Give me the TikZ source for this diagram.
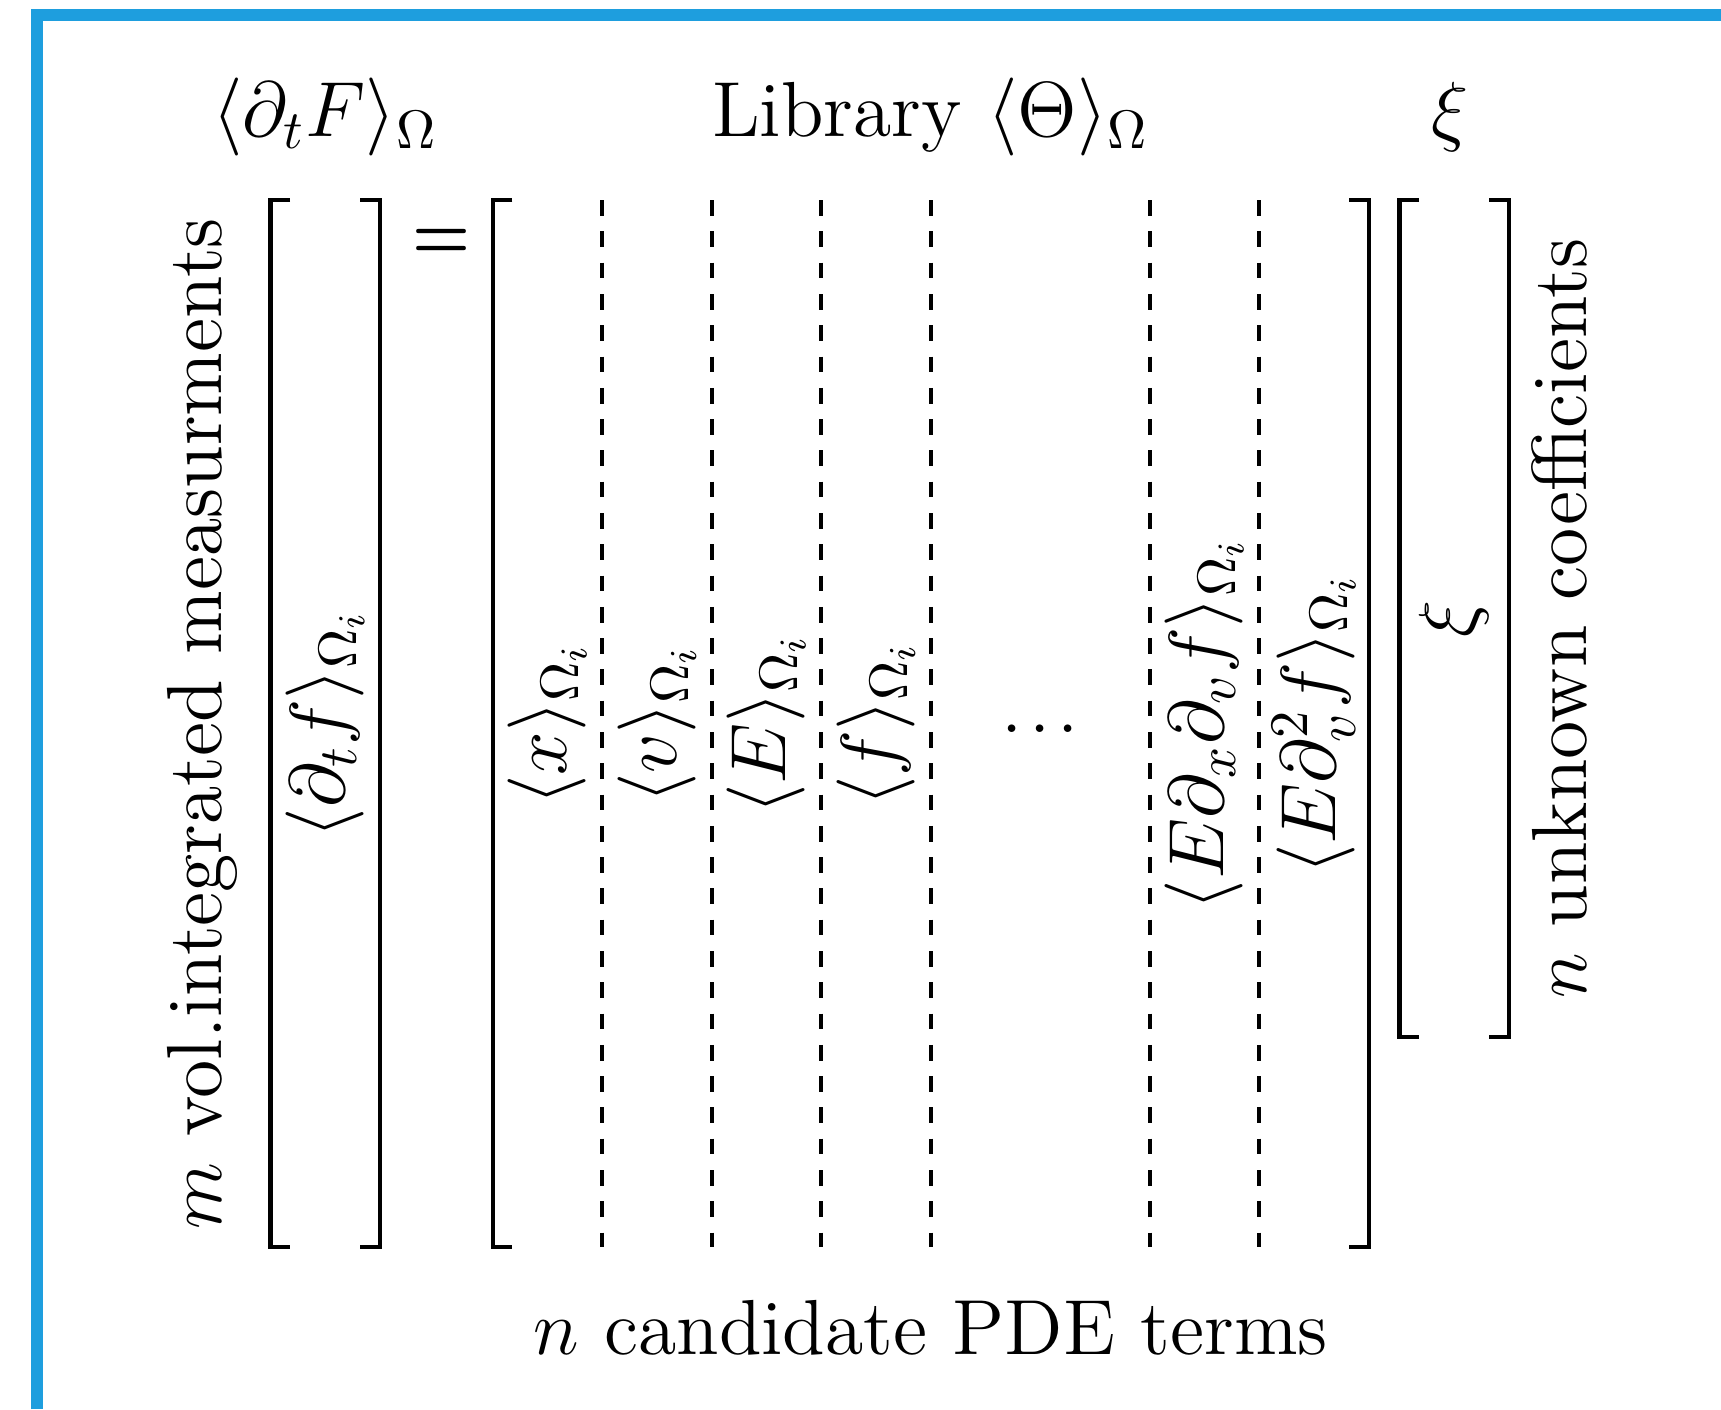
\documentclass[tikz,border=0pt]{standalone}
\usepackage{amsmath}
\usetikzlibrary{positioning}
\definecolor{frameblue}{RGB}{30,158,222}

\begin{document}
\begin{tikzpicture}[x=21pt, y=21pt,
  every node/.style={font=\Large, scale=1.04, inner sep=0pt},
  brk/.style={thick},
  colline/.style={thick, dashed},
  vlabel/.style={rotate=90}]

\useasboundingbox (0,0) rectangle (15.717,12.868);

%---------------------------------------
% Shared values
%---------------------------------------
\def\yB{1.48}    % bottom of the brackets
\def\yT{11.04}   % top of the brackets
\def\yX{3.40}    % bottom of the xi bracket
\def\yM{6.26}    % middle of the label row
\def\yH{11.617}  % baseline of the headers
\def\sr{0.18}    % bracket serif

% left / right bracket: x, top, bottom
\def\lbrk#1#2#3{\draw[brk] (#1+\sr,#2) -- (#1,#2) -- (#1,#3) -- (#1+\sr,#3);}
\def\rbrk#1#2#3{\draw[brk] (#1-\sr,#2) -- (#1,#2) -- (#1,#3) -- (#1-\sr,#3);}

% frame (cut off at right and bottom)
\draw[frameblue, line width=2.2pt] (0.338,0) -- (0.338,12.73) -- (15.717,12.73);

%====================================================
% Left hand side
%====================================================
\lbrk{2.47}{\yT}{\yB}
\rbrk{3.47}{\yT}{\yB}

\node[anchor=base] (lhs) at (2.97,\yH) {$\langle \partial_t F \rangle_\Omega$};
\node[vlabel] (dtf) at (2.97,\yM) {$\langle \partial_t f \rangle_{\Omega_i}$};
\node[vlabel] (meas) at (1.85,\yM) {$m$ vol.integrated measurments};

\node[xscale=0.85] (eq) at (4.03,10.64) {$\boldsymbol{=}$};

%====================================================
% Library
%====================================================
\lbrk{4.5}{\yT}{\yB}
\rbrk{12.5}{\yT}{\yB}
\foreach \k in {1,2,3,4,6,7}
  \draw[colline] (4.5+\k,\yT) -- (4.5+\k,\yB);

\node[anchor=base] (lib) at (8.5,\yH) {Library $\langle \Theta \rangle_\Omega$};

\foreach \t [count=\i] in {x,v,E,f}
  \node[vlabel] (col\i) at (4+\i,\yM) {$\langle \t \rangle_{\Omega_i}$};
\node (dots) at (9.5,6.21) {.\kern.09em.\kern.09em.};
\node[vlabel] (col5) at (11,\yM) {$\langle E\partial_x\partial_v f \rangle_{\Omega_i}$};
\node[vlabel] (col6) at (12,\yM) {$\langle E\partial_v^2 f \rangle_{\Omega_i}$};

\node[anchor=base] (terms) at (8.5,0.5) {$n$ candidate PDE terms};

%====================================================
% Coefficients
%====================================================
\lbrk{12.78}{\yT}{\yX}
\rbrk{13.78}{\yT}{\yX}

\node[anchor=base] (xihead) at (13.24,\yH) {$\xi$};
\node[vlabel] (xiv) at (13.28,7.22) {$\xi$};
\node[vlabel] (coef) at (14.24,7.22) {$n$ unknown coefficients};

\end{tikzpicture}
\end{document}
